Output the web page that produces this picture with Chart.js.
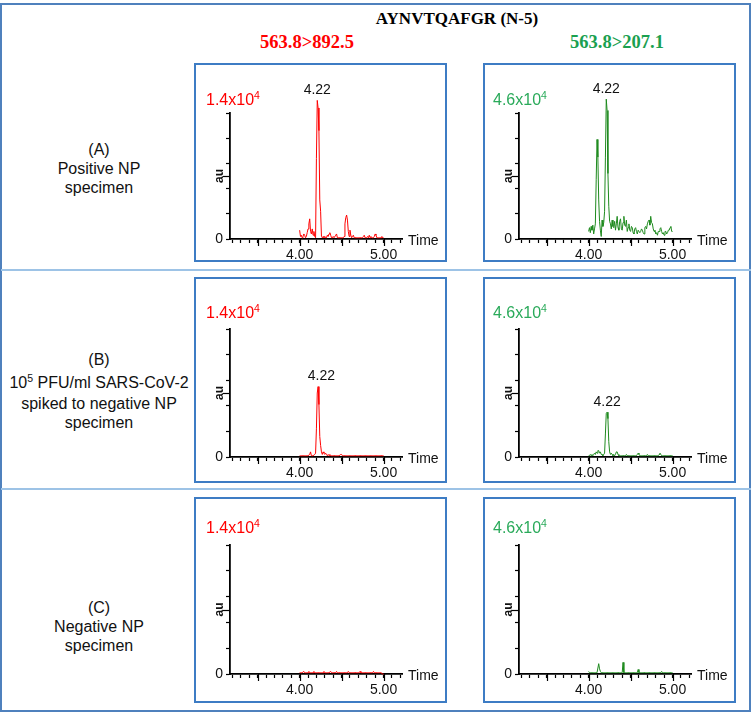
<!DOCTYPE html>
<html><head><meta charset="utf-8">
<script src="https://cdn.jsdelivr.net/npm/chart.js@4.4.1/dist/chart.umd.min.js"></script>
<style>
html,body{margin:0;padding:0;background:#fff;}
body{width:752px;height:714px;position:relative;overflow:hidden;font-family:"Liberation Sans",Arial,sans-serif;}
.frame{position:absolute;left:0;top:3px;width:751px;height:709px;box-sizing:border-box;border:2px solid #4f81bd;}
.hline{position:absolute;left:1px;width:750px;height:2px;background:#9dc3e6;}
.panel{position:absolute;box-sizing:border-box;border:2px solid #3d7cc4;width:253px;}
.panel canvas{position:absolute;left:0;top:0;}
.scale{position:absolute;font-size:16px;line-height:18px;white-space:nowrap;}
.sup{font-size:10.5px;position:relative;top:-6px;}
.lbl{position:absolute;width:198px;left:0;text-align:center;font-size:16px;line-height:18px;color:#111;white-space:nowrap;}
.title{position:absolute;font-family:"Liberation Serif","Times New Roman",serif;font-weight:bold;white-space:nowrap;transform:translate(-50%,-50%);line-height:1;}
</style></head>
<body>
<div class="frame"></div>
<div class="hline" style="top:269px"></div>
<div class="hline" style="top:488px"></div>

<div class="title" style="left:457px;top:18px;font-size:17px;color:#000;">AYNVTQAFGR (N-5)</div>
<div class="title" style="left:307px;top:42px;font-size:18.5px;color:#ff0000;">563.8&gt;892.5</div>
<div class="title" style="left:617px;top:42px;font-size:18.5px;color:#1aa050;">563.8&gt;207.1</div>

<div class="lbl" style="top:141px">(A)</div>
<div class="lbl" style="top:160px">Positive NP</div>
<div class="lbl" style="top:179px">specimen</div>

<div class="lbl" style="top:351px">(B)</div>
<div class="lbl" style="top:374px">10<span class="sup">5</span> PFU/ml SARS-CoV-2</div>
<div class="lbl" style="top:395px">spiked to negative NP</div>
<div class="lbl" style="top:414px">specimen</div>

<div class="lbl" style="top:599px">(C)</div>
<div class="lbl" style="top:618px">Negative NP</div>
<div class="lbl" style="top:637px">specimen</div>

<div class="panel" style="left:194px;top:63px;height:199px;"><canvas id="pA1" width="249" height="195"></canvas><div class="scale" style="left:10px;top:26px;color:#ff0000">1.4x10<span class="sup">4</span></div></div>
<div class="panel" style="left:483px;top:63px;height:199px;"><canvas id="pA2" width="249" height="195"></canvas><div class="scale" style="left:8px;top:26px;color:#2aaa5a">4.6x10<span class="sup">4</span></div></div>
<div class="panel" style="left:194px;top:277px;height:206px;"><canvas id="pB1" width="249" height="202"></canvas><div class="scale" style="left:10px;top:25px;color:#ff0000">1.4x10<span class="sup">4</span></div></div>
<div class="panel" style="left:483px;top:277px;height:206px;"><canvas id="pB2" width="249" height="202"></canvas><div class="scale" style="left:8px;top:25px;color:#2aaa5a">4.6x10<span class="sup">4</span></div></div>
<div class="panel" style="left:194px;top:497px;height:206px;"><canvas id="pC1" width="249" height="202"></canvas><div class="scale" style="left:10px;top:20px;color:#ff0000">1.4x10<span class="sup">4</span></div></div>
<div class="panel" style="left:483px;top:497px;height:206px;"><canvas id="pC2" width="249" height="202"></canvas><div class="scale" style="left:8px;top:20px;color:#2aaa5a">4.6x10<span class="sup">4</span></div></div>

<script>
// Retention time grid (min)
const times = [4.00,4.01,4.02,4.03,4.04,4.05,4.06,4.07,4.08,4.09,
4.10,4.11,4.12,4.13,4.14,4.15,4.16,4.17,4.18,4.19,
4.20,4.21,4.22,4.23,4.24,4.25,4.26,4.27,4.28,4.29,
4.30,4.31,4.32,4.33,4.34,4.35,4.36,4.37,4.38,4.39,
4.40,4.41,4.42,4.43,4.44,4.45,4.46,4.47,4.48,4.49,
4.50,4.51,4.52,4.53,4.54,4.55,4.56,4.57,4.58,4.59,
4.60,4.61,4.62,4.63,4.64,4.65,4.66,4.67,4.68,4.69,
4.70,4.71,4.72,4.73,4.74,4.75,4.76,4.77,4.78,4.79,
4.80,4.81,4.82,4.83,4.84,4.85,4.86,4.87,4.88,4.89,
4.90,4.91,4.92,4.93,4.94,4.95,4.96,4.97,4.98,4.99,
5.00];

// Relative intensity (% of full scale) per panel
const posRed = [7,2,3,1,2,4,3,1,2,5, 8,12,16,6,4,8,3,6,2,1, 64,110,104,86,31,22,2,1,2,1, 2,1,1,3,2,4,5,3,1,1, 2,1,1,3,4,1,1,1,1,1, 1,1,1,2,12,17,19,15,6,2, 7,3,1,2,3,1,1,1,1,1, 1,1,1,1,1,1,2,3,1,1, 1,2,1,3,1,2,1,1,1,2, 4,3,1,1,1,1,1,1,2,1, 1];
const posGreen = [6,9,5,10,7,11,4,8,12,47, 79,65,31,14,7,2,15,10,13,22, 65,111,102,52,26,14,12,8,15,10, 9,14,7,12,18,9,7,14,16,8, 7,13,18,11,10,15,6,9,12,7, 6,10,9,5,4,8,9,6,4,7, 7,5,6,8,7,5,4,9,10,8, 12,14,15,11,18,13,12,8,6,7, 4,5,3,6,6,8,9,6,4,5, 3,6,6,4,5,7,7,9,10,6, 6];
const spikedRed = [1,1,1,1,1,1,1,1,1,1, 1,1,2,4,1,1,1,1,2,3, 22,50,55,41,16,9,4,2,4,3, 2,3,2,1,2,1,2,1,1,1, 1,1,1,1,1,1,1,1,1,2, 2,1,1,1,1,1,1,1,1,1, 1,1,1,1,1,1,1,1,1,1, 1,1,1,1,1,1,1,1,1,1, 1,1,1,1,1,1,1,1,1,1, 1,1,1,1,1,1,1,1,1,1, 1];
const spikedGreen = [1,1,2,1,2,1,2,3,2,4, 3,5,5,3,4,2,2,1,2,3, 18,34,35,30,12,4,2,3,2,1, 2,1,2,4,4,2,1,1,1,1, 1,1,1,1,1,2,1,1,1,1, 1,1,1,1,1,1,1,1,2,3, 2,1,1,1,1,1,1,1,1,1, 2,1,1,1,1,1,1,1,1,1, 1,1,1,1,2,3,2,1,1,1, 1,1,1,1,1,1,1,1,1,1, 1];
const negRed = [1,1,1,1,1,2,1,1,1,1, 1,2,1,1,1,1,1,2,1,1, 1,1,1,1,1,1,1,1,1,2, 1,1,1,1,1,1,1,2,1,1, 1,1,1,1,2,1,1,1,1,1, 1,1,1,1,1,1,1,1,2,1, 1,1,1,1,1,1,1,1,1,1, 1,1,2,1,1,1,1,1,1,1, 1,1,1,1,1,1,1,1,2,1, 1,1,1,1,1,1,1,1,1,0, 0];
const negGreen = [2,1,1,1,1,1,1,1,1,1, 1,1,8,4,2,1,1,1,1,1, 1,1,1,1,1,1,1,1,1,1, 1,1,1,1,1,1,1,1,1,1, 1,9,1,1,1,1,1,1,1,1, 1,1,1,1,1,1,1,1,1,3.5, 1,1,1,1,1,1,1,1,1,1, 1,1,1,1,1,1,1,1,1,1, 1,1,1,1,1,1,1,2,1,1, 1,1,1,1,1,1,1,1,1,1, 1];

const xTickText = {'4.0':'4.00','5.0':'5.00'};
const majorTicks = [3.5, 4.0, 4.5, 5.0];
const xMin = 3.17, xMax = 5.22;
const FONT = '"Liberation Sans", Arial, sans-serif';

const extras = {
  id: 'extras',
  afterDraw(chart, args, opts) {
    const {ctx, chartArea, scales} = chart;
    const x = scales.x, y = scales.y;
    ctx.save();
    ctx.strokeStyle = '#000'; ctx.lineWidth = 1.2;
    majorTicks.forEach(t => {
      const px = Math.round(x.getPixelForValue(t)) + 0.5;
      ctx.beginPath(); ctx.moveTo(px, chartArea.bottom); ctx.lineTo(px, chartArea.bottom + 7); ctx.stroke();
    });
    const py = Math.round(y.getPixelForValue(50)) + 0.5;
    ctx.beginPath(); ctx.moveTo(chartArea.left, py); ctx.lineTo(chartArea.left - 7, py); ctx.stroke();
    ctx.fillStyle = '#111';
    ctx.font = '14px ' + FONT;
    ctx.textBaseline = 'middle'; ctx.textAlign = 'left';
    ctx.fillText('Time', chartArea.right + 6, chartArea.bottom + 2);
    if (opts.show) {
      ctx.font = '14px ' + FONT;
      ctx.textAlign = 'center'; ctx.textBaseline = 'bottom';
      ctx.fillText(opts.text, x.getPixelForValue(opts.x), y.getPixelForValue(opts.y) - 3);
    }
    ctx.restore();
  }
};

function makeChart(id, values, color, peak, topPad, baseline) {
  const canvas = document.getElementById(id);
  const H = canvas.height;
  return new Chart(canvas, {
    type: 'line',
    data: { datasets: [{
      data: times.map((t, i) => ({x: t, y: values[i]})),
      borderColor: color, borderWidth: 1, pointRadius: 0, tension: 0, clip: false, fill: false
    }]},
    options: {
      responsive: false, animation: false, devicePixelRatio: 1,
      layout: { padding: { top: topPad, right: 43, left: 0, bottom: 0 } },
      plugins: { legend: {display: false}, tooltip: {enabled: false}, extras: peak },
      scales: {
        x: {
          type: 'linear', min: xMin, max: xMax,
          afterFit: s => { s.height = H - baseline; },
          ticks: { stepSize: 0.1, includeBounds: false, autoSkip: false, maxRotation: 0, minRotation: 0,
            padding: 4, color: '#111', font: {size: 14, family: FONT},
            callback: v => xTickText[Number(v).toFixed(1)] || '' },
          grid: { drawOnChartArea: false, drawTicks: true, tickLength: 4, tickColor: '#000', tickWidth: 1.2 },
          border: { display: true, color: '#000', width: 1.8 }
        },
        y: {
          min: 0, max: 100,
          afterFit: s => { s.width = 34; },
          ticks: { stepSize: 10, padding: 3, color: '#111', font: {size: 14, family: FONT},
            callback: v => v === 0 ? '0' : '' },
          grid: { drawOnChartArea: false, drawTicks: true, tickLength: 4, tickColor: '#000', tickWidth: 1.2 },
          border: { display: true, color: '#000', width: 1.8 },
          title: { display: true, text: 'au', color: '#111', padding: {top: 16, bottom: 0}, font: {size: 12, weight: 'bold', family: FONT} }
        }
      }
    },
    plugins: [extras]
  });
}

const RED = '#ff0000', GREEN = '#1e8a1e';
makeChart('pA1', posRed, RED, {show: true, text: '4.22', x: 4.21, y: 110}, 48, 174);
makeChart('pA2', posGreen, GREEN, {show: true, text: '4.22', x: 4.21, y: 111}, 48, 174);
makeChart('pB1', spikedRed, RED, {show: true, text: '4.22', x: 4.26, y: 55}, 50, 178);
makeChart('pB2', spikedGreen, GREEN, {show: true, text: '4.22', x: 4.22, y: 35}, 50, 178);
makeChart('pC1', negRed, RED, {show: false}, 46, 175);
makeChart('pC2', negGreen, GREEN, {show: false}, 46, 175);
</script>
</body></html>
